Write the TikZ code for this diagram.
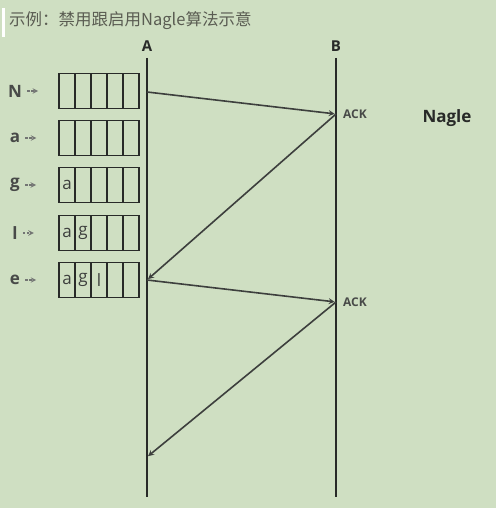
\documentclass[tikz,border=0pt]{standalone}
\usepackage{fontspec}
\setmainfont{Open Sans}
\newfontfamily\cjk{Noto Sans CJK SC}
\usetikzlibrary{positioning, arrows}
\definecolor{bg_green}{RGB}{207,223,194}
\definecolor{ink}{RGB}{40,42,40}
\definecolor{title_gray}{RGB}{90,92,82}
\tikzset{
    life_line/.style={line width=2.8pt, draw=ink},
    msg_arrow/.style={line width=1.6pt, draw=ink!90, ->, >=stealth, shorten >=1.4pt},
    cell/.style={rectangle, draw=ink, line width=1.9pt, minimum width=16pt, minimum height=35pt, inner sep=0pt, outer sep=0pt},
    cell_text/.style={font=\fontsize{17}{17}\selectfont, text=ink!90, inner sep=0pt},
    char_label/.style={font=\bfseries\fontsize{17}{17}\selectfont, text=ink!85, inner sep=0pt},
    ptr_arrow/.style={line width=1.4pt, draw=ink!65, dash pattern=on 2.5pt off 1.5pt, ->, >=stealth},
    host_name/.style={font=\bfseries\fontsize{15}{15}\selectfont, text=ink},
    ack_label/.style={font=\bfseries\fontsize{12}{12}\selectfont, text=ink!85, anchor=west, inner sep=0pt},
}

\begin{document}
\begin{tikzpicture}[x=1pt, y=-1pt]
      \useasboundingbox (0,0) rectangle (496,508);
      \fill [bg_green] (0,0) rectangle (496,508);

      %%%%%%%%%
      % TITLE %
      %%%%%%%%%
      \fill [white] (2,8) rectangle (5,37);
      \node (title) [anchor=west, inner sep=0pt, text=title_gray,
            font=\cjk\fontsize{16.5}{16.5}\selectfont] at (9,21)
            {示例：禁用跟启用Nagle算法示意};

      %%%%%%%%%%%%%
      % LIFELINES %
      %%%%%%%%%%%%%
      \coordinate (A_top) at (147,58);
      \coordinate (A_bot) at (147,497);
      \coordinate (B_top) at (336,58);
      \coordinate (B_bot) at (336,497);
      \node (host_A) [host_name, above=3pt of A_top] {A};
      \node (host_B) [host_name, above=3pt of B_top] {B};
      \draw [life_line] (A_top) -- (A_bot);
      \draw [life_line] (B_top) -- (B_bot);

      %%%%%%%%%%%
      % BUFFERS %
      %%%%%%%%%%%
      \foreach \row/\y in {N/91, a/138, g/185, l/233, e/280} {
            \node (lbl_\row) [char_label] at (15,\y) {\row};
            \draw [ptr_arrow] ([xshift=5pt]lbl_\row.east) -- ++(11,0);
            \foreach \i in {1,...,5}
                  \node (buf_\row_\i) [cell] at (51+16*\i,\y) {};
      }
      \node [cell_text] at (buf_g_1) {a};
      \node [cell_text] at (buf_l_1) {a};
      \node [cell_text] at (buf_l_2) {g};
      \node [cell_text] at (buf_e_1) {a};
      \node [cell_text] at (buf_e_2) {g};
      \node [cell_text] at (buf_e_3) {l};

      %%%%%%%%%%%%
      % MESSAGES %
      %%%%%%%%%%%%
      \coordinate (send_1) at (147,92);
      \coordinate (ack_1) at (336,114);
      \coordinate (send_2) at (147,280);
      \coordinate (ack_2) at (336,302);
      \coordinate (recv_3) at (147,457);

      \draw [msg_arrow] (send_1) -- (ack_1);
      \draw [msg_arrow] (ack_1) -- (send_2);
      \draw [msg_arrow] (send_2) -- (ack_2);
      \draw [msg_arrow] (ack_2) -- (recv_3);

      \node (ack_lbl_1) [ack_label, right=7pt of ack_1, anchor=west] {ACK};
      \node (ack_lbl_2) [ack_label, right=7pt of ack_2, anchor=west] {ACK};
      \node (nagle) [font=\bfseries\fontsize{17}{17}\selectfont, text=ink] at (447,118) {Nagle};
\end{tikzpicture}
\end{document}
